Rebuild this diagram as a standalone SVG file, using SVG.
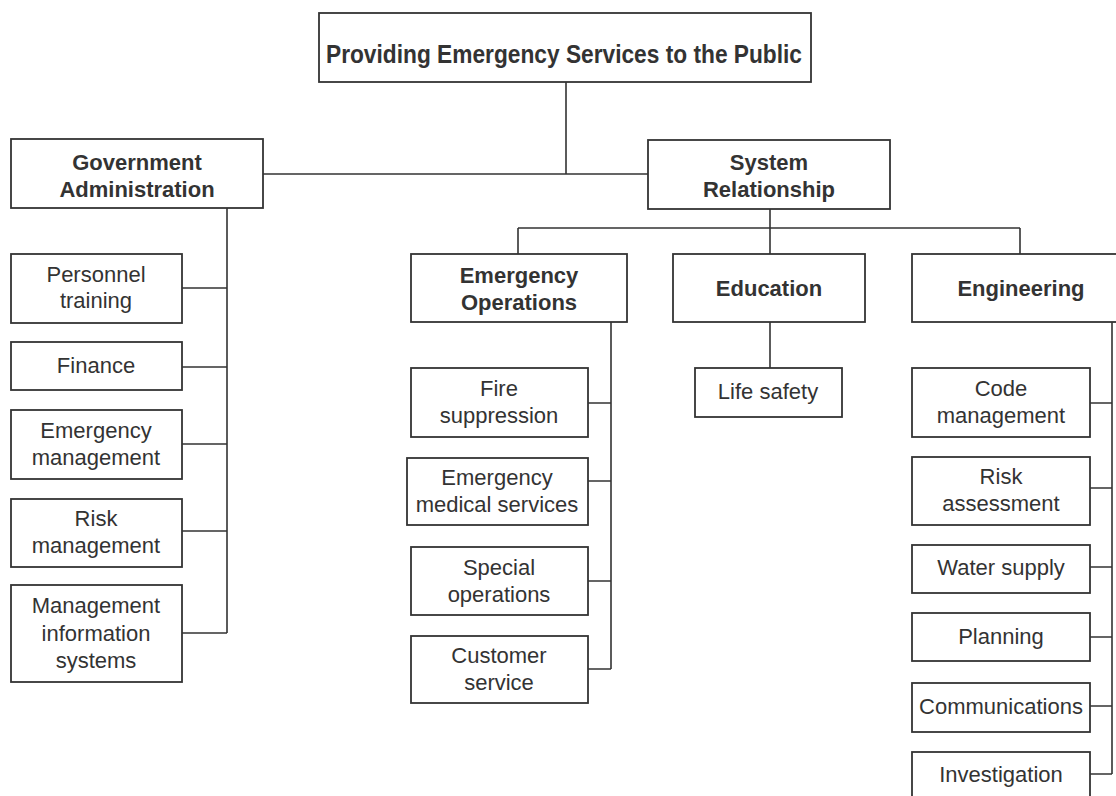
<svg xmlns="http://www.w3.org/2000/svg" width="1116" height="796" viewBox="0 0 1116 796">
<style>
  .box { fill: #fff; stroke: #333; stroke-width: 1.8; }
  .con { fill: none; stroke: #333; stroke-width: 1.6; }
  .t { font-family: "Liberation Sans", Arial, sans-serif; font-size: 22px; fill: #333; text-anchor: middle; }
  .b { font-weight: bold; }
  .title { font-size: 26px; }
</style>
<rect x="0" y="0" width="1116" height="796" fill="#fff"/>
<g id="connectors">
  <path class="con" d="M566 82V174M263 174H648"/>
  <path class="con" d="M227 208V633M182 288H227M182 367H227M182 444H227M182 531H227M182 633H227"/>
  <path class="con" d="M770 209V228M518 228H1020M518 228V254M770 228V254M1020 228V254"/>
  <path class="con" d="M611 322V669M588 403H611M588 481H611M588 581H611M588 669H611"/>
  <path class="con" d="M770 322V368"/>
  <path class="con" d="M1112 322V774M1090 403H1112M1090 488H1112M1090 567H1112M1090 637H1112M1090 706H1112M1090 774H1112"/>
</g>
<g id="root">
  <rect class="box" x="319" y="13" width="492" height="69"/>
  <text class="t b title" x="564" y="63" textLength="476" lengthAdjust="spacingAndGlyphs">Providing Emergency Services to the Public</text>
</g>
<g id="gov">
  <rect class="box" x="11" y="139" width="252" height="69"/>
  <text class="t b" x="137" y="170">Government</text>
  <text class="t b" x="137" y="197">Administration</text>
</g>
<g id="sys">
  <rect class="box" x="648" y="140" width="242" height="69"/>
  <text class="t b" x="769" y="170">System</text>
  <text class="t b" x="769" y="197">Relationship</text>
</g>
<g id="personnel">
  <rect class="box" x="11" y="254" width="171" height="69"/>
  <text class="t" x="96" y="282">Personnel</text>
  <text class="t" x="96" y="308">training</text>
</g>
<g id="finance">
  <rect class="box" x="11" y="342" width="171" height="48"/>
  <text class="t" x="96" y="373">Finance</text>
</g>
<g id="emgmt">
  <rect class="box" x="11" y="410" width="171" height="69"/>
  <text class="t" x="96" y="438">Emergency</text>
  <text class="t" x="96" y="465">management</text>
</g>
<g id="riskmgmt">
  <rect class="box" x="11" y="499" width="171" height="68"/>
  <text class="t" x="96" y="526">Risk</text>
  <text class="t" x="96" y="553">management</text>
</g>
<g id="mis">
  <rect class="box" x="11" y="585" width="171" height="97"/>
  <text class="t" x="96" y="613">Management</text>
  <text class="t" x="96" y="641">information</text>
  <text class="t" x="96" y="668">systems</text>
</g>
<g id="eo">
  <rect class="box" x="411" y="254" width="216" height="68"/>
  <text class="t b" x="519" y="283">Emergency</text>
  <text class="t b" x="519" y="310">Operations</text>
</g>
<g id="edu">
  <rect class="box" x="673" y="254" width="192" height="68"/>
  <text class="t b" x="769" y="296">Education</text>
</g>
<g id="eng">
  <rect class="box" x="912" y="254" width="218" height="68"/>
  <text class="t b" x="1021" y="296">Engineering</text>
</g>
<g id="fire">
  <rect class="box" x="411" y="368" width="177" height="69"/>
  <text class="t" x="499" y="396">Fire</text>
  <text class="t" x="499" y="423">suppression</text>
</g>
<g id="ems">
  <rect class="box" x="407" y="458" width="181" height="67"/>
  <text class="t" x="497" y="485">Emergency</text>
  <text class="t" x="497" y="512">medical services</text>
</g>
<g id="special">
  <rect class="box" x="411" y="547" width="177" height="68"/>
  <text class="t" x="499" y="575">Special</text>
  <text class="t" x="499" y="602">operations</text>
</g>
<g id="customer">
  <rect class="box" x="411" y="636" width="177" height="67"/>
  <text class="t" x="499" y="663">Customer</text>
  <text class="t" x="499" y="690">service</text>
</g>
<g id="life">
  <rect class="box" x="695" y="368" width="147" height="49"/>
  <text class="t" x="768" y="399">Life safety</text>
</g>
<g id="code">
  <rect class="box" x="912" y="368" width="178" height="69"/>
  <text class="t" x="1001" y="396">Code</text>
  <text class="t" x="1001" y="423">management</text>
</g>
<g id="riskassess">
  <rect class="box" x="912" y="457" width="178" height="68"/>
  <text class="t" x="1001" y="484">Risk</text>
  <text class="t" x="1001" y="511">assessment</text>
</g>
<g id="water">
  <rect class="box" x="912" y="545" width="178" height="48"/>
  <text class="t" x="1001" y="575">Water supply</text>
</g>
<g id="planning">
  <rect class="box" x="912" y="613" width="178" height="48"/>
  <text class="t" x="1001" y="644">Planning</text>
</g>
<g id="comms">
  <rect class="box" x="912" y="683" width="178" height="49"/>
  <text class="t" x="1001" y="714">Communications</text>
</g>
<g id="invest">
  <rect class="box" x="912" y="752" width="178" height="48"/>
  <text class="t" x="1001" y="782">Investigation</text>
</g>
</svg>
